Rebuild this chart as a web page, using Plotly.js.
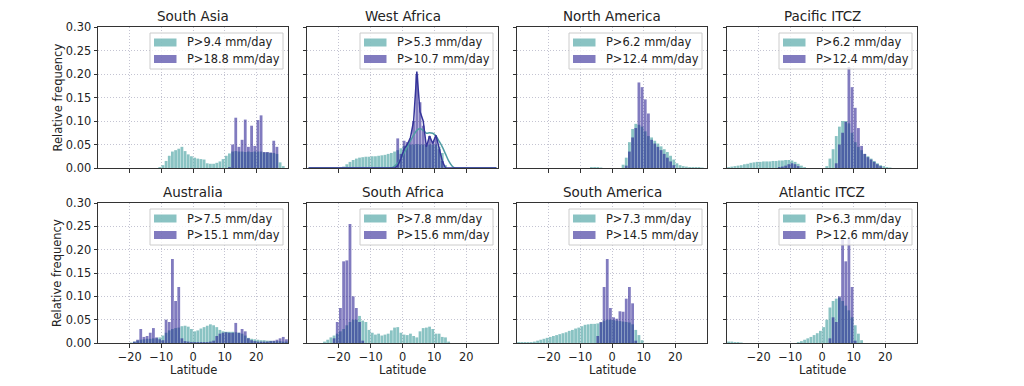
<!DOCTYPE html>
<html><head><meta charset="utf-8">
<script src="https://cdn.plot.ly/plotly-3.0.1.min.js"></script>
<style>html,body{margin:0;padding:0;background:#fff;}#chart{width:1024px;height:386px;}</style>
</head><body><div id="chart"></div>
<script>
// latitude bin centres (1 degree bins)
const latBins = [
 -29.5,-28.5,-27.5,-26.5,-25.5,-24.5,-23.5,-22.5,-21.5,-20.5,
 -19.5,-18.5,-17.5,-16.5,-15.5,-14.5,-13.5,-12.5,-11.5,-10.5,
 -9.5,-8.5,-7.5,-6.5,-5.5,-4.5,-3.5,-2.5,-1.5,-0.5,
 0.5,1.5,2.5,3.5,4.5,5.5,6.5,7.5,8.5,9.5,
 10.5,11.5,12.5,13.5,14.5,15.5,16.5,17.5,18.5,19.5,
 20.5,21.5,22.5,23.5,24.5,25.5,26.5,27.5,28.5,29.5];

const southAsiaLow = [
 0,0,0,0,0,0,0,0,0,0,
 0,0,0,0,0,0,0,0,0,0.002,
 0.006,0.015,0.026,0.035,0.038,0.041,0.045,0.036,0.029,0.025,
 0.022,0.020,0.019,0.018,0.010,0.009,0.009,0.011,0.014,0.019,
 0.026,0.031,0.035,0.036,0.035,0.035,0.034,0.035,0.034,0.035,
 0.035,0.035,0.033,0.033,0.032,0.032,0.030,0.012,0.004,0];
const southAsiaHigh = [
 0,0,0,0,0,0,0,0,0,0,
 0,0,0,0,0,0,0,0,0,0,
 0,0,0,0,0,0,0,0,0,0,
 0,0,0,0,0,0,0,0,0,0,
 0,0.002,0.050,0.107,0.045,0.060,0.103,0.045,0.090,0.047,
 0.102,0.112,0.034,0.034,0.033,0.058,0.045,0,0,0];

const westAfricaLow = [
 0,0,0,0,0,0,0,0,0,0,
 0,0.003,0.008,0.013,0.017,0.020,0.022,0.023,0.024,0.024,
 0.025,0.025,0.026,0.027,0.028,0.030,0.032,0.035,0.038,0.042,
 0.047,0.050,0.050,0.050,0.051,0.050,0.050,0.050,0.050,0.050,
 0.050,0.045,0.032,0.006,0,0,0,0,0,0,
 0,0,0,0,0,0,0,0,0,0];
const westAfricaHigh = [
 0,0,0,0,0,0,0,0,0,0,
 0,0,0,0,0,0,0,0,0,0,
 0,0,0,0,0,0,0,0,0.063,0.030,
 0.058,0.055,0.062,0.100,0.200,0.140,0.090,0.050,0.068,0.055,
 0.065,0.040,0.015,0,0,0,0,0,0,0,
 0,0,0,0,0,0,0,0,0,0];
const westAfricaLowLine = [
 0,0,0,0,0,0,0,0,0,0,
 0,0,0,0,0,0,0,0,0,0,
 0,0,0,0,0,0,0,0.004,0.010,0.020,
 0.032,0.045,0.058,0.070,0.080,0.084,0.080,0.074,0.075,0.074,
 0.068,0.057,0.045,0.030,0.015,0.005,0,0,0,0,
 0,0,0,0,0,0,0,0,0,0];
const westAfricaHighLine = [
 0,0,0,0,0,0,0,0,0,0,
 0,0,0,0,0,0,0,0,0,0,
 0,0,0,0,0,0,0,0,0.005,0.020,
 0.040,0.050,0.065,0.100,0.205,0.120,0.100,0.045,0.068,0.052,
 0.070,0.040,0.015,0,0,0,0,0,0,0,
 0,0,0,0,0,0,0,0,0,0];

const northAmericaLow = [
 0,0,0,0,0,0,0,0,0,0,
 0,0,0,0,0,0,0,0,0,0,
 0,0,0,0.002,0.002,0.002,0.001,0,0,0,
 0,0,0,0.007,0.022,0.055,0.083,0.094,0.092,0.088,
 0.078,0.068,0.065,0.058,0.052,0.046,0.040,0.034,0.026,0.018,
 0.010,0.006,0.004,0.003,0.002,0.002,0.002,0.002,0.001,0];
const northAmericaHigh = [
 0,0,0,0,0,0,0,0,0,0,
 0,0,0,0,0,0,0,0,0,0,
 0,0,0,0,0,0,0,0,0,0,
 0,0,0,0,0.005,0.035,0.065,0.085,0.182,0.172,
 0.146,0.116,0.060,0.052,0.045,0.038,0.030,0.022,0.014,0.006,
 0,0,0,0,0,0,0,0,0,0];

const pacificLow = [
 0.002,0.003,0.004,0.005,0.006,0.008,0.009,0.011,0.012,0.013,
 0.013,0.014,0.014,0.014,0.015,0.015,0.016,0.016,0.017,0.017,
 0.016,0.013,0.009,0.005,0.002,0,0,0,0,0,
 0,0.004,0.020,0.040,0.068,0.088,0.100,0.100,0.095,0.075,
 0.055,0.045,0.038,0.030,0.025,0.020,0.015,0.010,0.006,0.004,
 0.002,0.001,0,0,0,0,0,0,0,0];
const pacificHigh = [
 0,0,0,0,0,0,0,0,0,0,
 0,0,0,0,0,0,0.002,0.003,0.005,0.008,
 0.010,0.008,0.004,0,0,0,0,0,0,0,
 0,0,0,0,0.010,0.050,0.075,0.098,0.215,0.172,
 0.128,0.085,0.047,0.030,0.023,0.018,0.013,0.008,0.004,0,
 0,0,0,0,0,0,0,0,0,0];

const australiaLow = [
 0,0,0,0,0,0,0,0,0,0,
 0.001,0.003,0.005,0.007,0.008,0.009,0.009,0.010,0.010,0.012,
 0.016,0.022,0.027,0.030,0.032,0.033,0.036,0.037,0.035,0.030,
 0.025,0.027,0.031,0.034,0.037,0.040,0.038,0.034,0.028,0.025,
 0.024,0.024,0.024,0.023,0.022,0.020,0.016,0.011,0.009,0.008,
 0.007,0.006,0.006,0.005,0.005,0.004,0.004,0.004,0.003,0.003];
const australiaHigh = [
 0,0,0,0,0,0,0,0,0,0,
 0,0.003,0.007,0.030,0.013,0.015,0.022,0.032,0.012,0.008,
 0.006,0.050,0.045,0.180,0.090,0.120,0.010,0.004,0.003,0.002,
 0.002,0.002,0.002,0.002,0.002,0.003,0.005,0.015,0.020,0.022,
 0.023,0.022,0.022,0.043,0.022,0.030,0.025,0.010,0.006,0.004,
 0.003,0.003,0.003,0.003,0.004,0.005,0.007,0.010,0.013,0.008];

const southAfricaLow = [
 0,0,0,0,0,0.003,0.007,0.012,0.016,0.020,
 0.025,0.030,0.038,0.045,0.050,0.050,0.058,0.048,0.045,0.028,
 0.022,0.018,0.020,0.016,0.018,0.020,0.027,0.033,0.034,0.022,
 0.018,0.017,0.020,0.015,0.012,0.025,0.032,0.033,0.035,0.030,
 0.020,0.020,0.013,0.012,0.003,0,0,0,0,0,
 0,0,0,0,0,0,0,0,0,0];
const southAfricaHigh = [
 0,0,0,0,0,0,0,0,0.010,0.045,
 0.075,0.175,0.177,0.255,0.100,0.075,0.045,0.005,0,0,
 0,0,0,0,0,0,0,0,0,0,
 0,0,0,0,0,0,0,0,0,0,
 0,0,0,0,0,0,0,0,0,0,
 0,0,0,0,0,0,0,0,0,0];

const southAmericaLow = [
 0.002,0.002,0.002,0.002,0.002,0.003,0.005,0.007,0.009,0.011,
 0.013,0.015,0.017,0.019,0.021,0.023,0.026,0.028,0.031,0.033,
 0.036,0.039,0.040,0.041,0.041,0.042,0.044,0.048,0.050,0.050,
 0.049,0.048,0.047,0.046,0.045,0.044,0.040,0.028,0.017,0.006,
 0,0,0,0,0,0,0,0,0,0,
 0,0,0,0,0,0,0,0,0,0];
const southAmericaHigh = [
 0,0,0,0,0,0,0,0,0,0,
 0,0,0,0,0,0,0,0,0,0,
 0,0,0,0,0,0.015,0.045,0.120,0.180,0.075,
 0.055,0.052,0.068,0.067,0.095,0.120,0.085,0.005,0,0,
 0,0,0,0,0,0,0,0,0,0,
 0,0,0,0,0,0,0,0,0,0];

const atlanticLow = [
 0.003,0.003,0.002,0.002,0.001,0,0,0,0,0,
 0,0,0,0,0,0,0,0,0,0,
 0,0,0.002,0.004,0.007,0.010,0.013,0.017,0.021,0.026,
 0.034,0.050,0.076,0.090,0.095,0.097,0.090,0.080,0.070,0.055,
 0.038,0.020,0.006,0,0,0,0,0,0,0,
 0,0,0,0,0,0,0,0,0,0];
const atlanticHigh = [
 0,0,0,0,0,0,0,0,0,0,
 0,0,0,0,0,0,0,0,0,0,
 0,0,0,0,0,0,0,0,0,0,
 0,0,0.010,0.055,0.045,0.100,0.226,0.175,0.226,0.120,
 0.005,0,0,0,0,0,0,0,0,0,
 0,0,0,0,0,0,0,0,0,0];

const regionNames = ['South Asia','West Africa','North America','Pacific ITCZ',
                     'Australia','South Africa','South America','Atlantic ITCZ'];
const lowLabels  = ['P>9.4 mm/day','P>5.3 mm/day','P>6.2 mm/day','P>6.2 mm/day',
                    'P>7.5 mm/day','P>7.8 mm/day','P>7.3 mm/day','P>6.3 mm/day'];
const highLabels = ['P>18.8 mm/day','P>10.7 mm/day','P>12.4 mm/day','P>12.4 mm/day',
                    'P>15.1 mm/day','P>15.6 mm/day','P>14.5 mm/day','P>12.6 mm/day'];
const lowSeries  = [southAsiaLow, westAfricaLow, northAmericaLow, pacificLow,
                    australiaLow, southAfricaLow, southAmericaLow, atlanticLow];
const highSeries = [southAsiaHigh, westAfricaHigh, northAmericaHigh, pacificHigh,
                    australiaHigh, southAfricaHigh, southAmericaHigh, atlanticHigh];
const xTickVals = [-20,-10,0,10,20];
const yTickVals = [0,0.05,0.10,0.15,0.20,0.25,0.30];

// ---- styling / layout ----
const W = 1024, H = 386;
const FONT = 'DejaVu Sans, sans-serif';
const TEAL = 'rgba(80,165,165,0.67)';
const PURPLE = 'rgba(30,20,140,0.56)';
const colPx = [[98,288],[307,498],[517,707],[727,917]];
const rowPx = [[27,168],[203,343]];
const px = v => v / W, py = v => 1 - v / H;

const traces = [];
const shapes = [];
const annotations = [];
const layout = {
  width: W, height: H,
  margin: {l:0, r:0, t:0, b:0},
  paper_bgcolor: '#ffffff', plot_bgcolor: '#ffffff',
  barmode: 'overlay',
  showlegend: false,
  font: {family: FONT, size: 11.4, color: '#222'},
  shapes: shapes, annotations: annotations
};

function addLegendBox(c, r, labels) {
  const R = colPx[c][1] - 5, L = R - 133, T = rowPx[r][0] + 6, B = T + 36;
  shapes.push({type: 'rect', xref: 'paper', yref: 'paper', layer: 'above',
    x0: px(L), x1: px(R), y0: py(B), y1: py(T),
    fillcolor: 'rgba(255,255,255,0.8)', line: {color: '#cccccc', width: 1}});
  const rows = [[T + 5.5, T + 13.5], [T + 22, T + 30]];
  const cols = [TEAL, PURPLE];
  rows.forEach((yy, k) => {
    shapes.push({type: 'rect', xref: 'paper', yref: 'paper', layer: 'above',
      x0: px(L + 4), x1: px(L + 26.5), y0: py(yy[1]), y1: py(yy[0]),
      fillcolor: cols[k], line: {width: 0}});
    annotations.push({text: labels[k], xref: 'paper', yref: 'paper',
      x: px(L + 35), y: py((yy[0] + yy[1]) / 2), xanchor: 'left', yanchor: 'middle',
      showarrow: false, font: {family: FONT, size: 11.4, color: '#222'}});
  });
}

regionNames.forEach((name, i) => {
  const r = Math.floor(i / 4), c = i % 4, n = i + 1;
  const sfx = n > 1 ? String(n) : '';
  const xa = 'x' + sfx, ya = 'y' + sfx;
  const axisCommon = {
    ticks: 'outside', ticklen: 3.5, tickwidth: 1, tickcolor: '#333',
    showline: true, mirror: true, linecolor: '#333', linewidth: 1,
    showgrid: true, gridcolor: '#c4c4d2', griddash: '1px,2px', gridwidth: 1,
    zeroline: false, fixedrange: true,
    tickfont: {family: FONT, size: 11.4, color: '#222'}
  };
  layout['xaxis' + sfx] = Object.assign({}, axisCommon, {
    domain: [px(colPx[c][0]), px(colPx[c][1])], anchor: ya,
    range: [-30, 30], tickmode: 'array', tickvals: xTickVals,
    showticklabels: r === 1
  });
  layout['yaxis' + sfx] = Object.assign({}, axisCommon, {
    domain: [py(rowPx[r][1]), py(rowPx[r][0])], anchor: xa,
    range: [0, 0.30], tickmode: 'array', tickvals: yTickVals, tickformat: '.2f',
    showticklabels: c === 0
  });

  traces.push({type: 'bar', x: latBins, y: lowSeries[i], width: 0.88,
    name: lowLabels[i], marker: {color: TEAL, line: {width: 0}},
    xaxis: xa, yaxis: ya, hoverinfo: 'skip'});
  traces.push({type: 'bar', x: latBins, y: highSeries[i], width: 0.88,
    name: highLabels[i], marker: {color: PURPLE, line: {width: 0}},
    xaxis: xa, yaxis: ya, hoverinfo: 'skip'});

  if (i === 1) {
    traces.push({type: 'scatter', mode: 'lines', x: latBins, y: westAfricaLowLine,
      line: {color: '#4f9ca3', width: 1.5, shape: 'spline', smoothing: 0.8},
      xaxis: xa, yaxis: ya, hoverinfo: 'skip'});
    traces.push({type: 'scatter', mode: 'lines', x: latBins, y: westAfricaHighLine,
      line: {color: '#35349a', width: 1.5},
      xaxis: xa, yaxis: ya, hoverinfo: 'skip'});
  }

  addLegendBox(c, r, [lowLabels[i], highLabels[i]]);

  const cx = px((colPx[c][0] + colPx[c][1]) / 2);
  annotations.push({text: name, xref: 'paper', yref: 'paper',
    x: cx, y: py(rowPx[r][0] - 11), xanchor: 'center', yanchor: 'middle',
    showarrow: false, font: {family: FONT, size: 13.5, color: '#222'}});
  if (r === 1) {
    annotations.push({text: 'Latitude', xref: 'paper', yref: 'paper',
      x: cx, y: py(370), xanchor: 'center', yanchor: 'middle',
      showarrow: false, font: {family: FONT, size: 11.5, color: '#222'}});
  }
  if (c === 0) {
    annotations.push({text: 'Relative frequency', xref: 'paper', yref: 'paper',
      x: px(57), y: py((rowPx[r][0] + rowPx[r][1]) / 2),
      xanchor: 'center', yanchor: 'middle', textangle: -90,
      showarrow: false, font: {family: FONT, size: 11.5, color: '#222'}});
  }
});

Plotly.newPlot('chart', traces, layout, {displayModeBar: false, staticPlot: true});
</script>
</body></html>
